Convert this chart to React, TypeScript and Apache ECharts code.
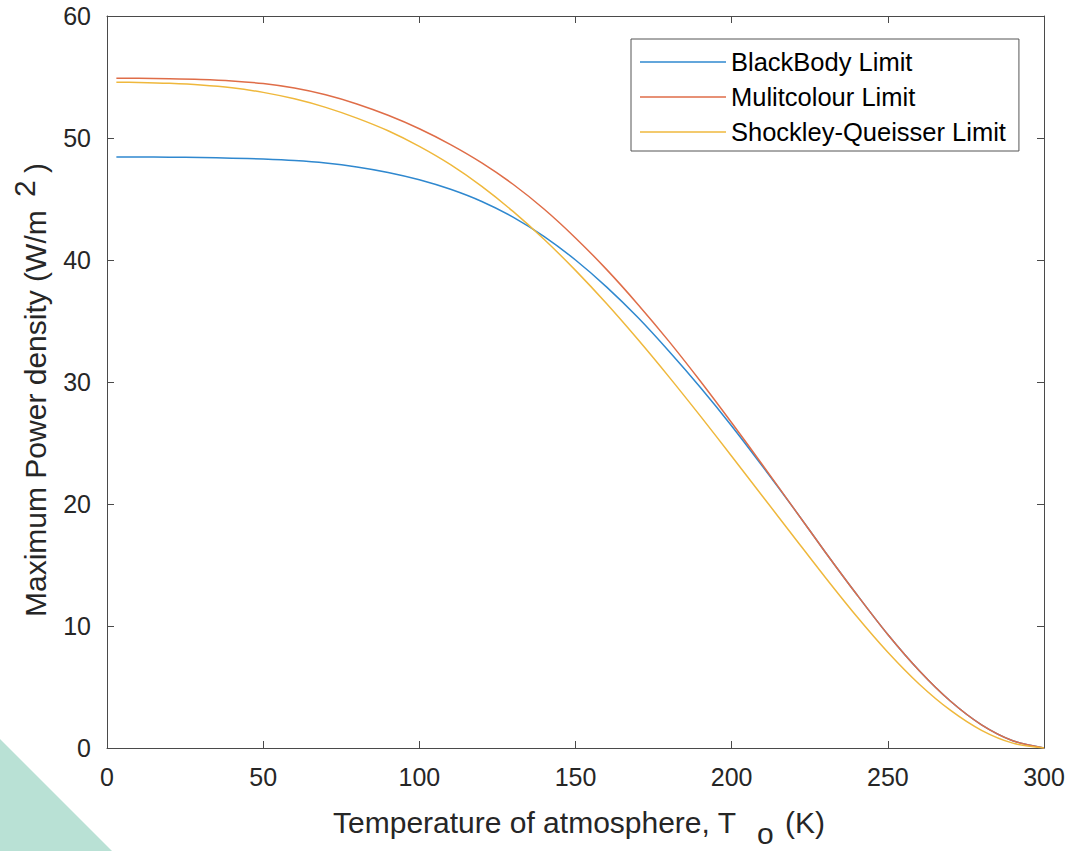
import React, { useEffect, useRef } from 'react';
import * as echarts from 'echarts';

// Temperature of atmosphere (K)
const temperatures = [3, 10, 20, 30, 40, 50, 60, 70, 80, 90, 100, 110, 120, 130, 140, 150, 160, 170, 180, 190, 200, 210, 220, 230, 240, 250, 260, 270, 280, 290, 300];

// Maximum power density (W/m^2)
const blackBodyLimit = [48.45, 48.45, 48.43, 48.4, 48.35, 48.27, 48.15, 47.95, 47.63, 47.18, 46.58, 45.8, 44.8, 43.52, 41.92, 40.0, 37.78, 35.28, 32.5, 29.55, 26.4, 23.05, 19.6, 16.05, 12.6, 9.3, 6.35, 3.85, 1.9, 0.6, 0];
const multicolourLimit = [54.9, 54.89, 54.86, 54.8, 54.68, 54.46, 54.09, 53.54, 52.79, 51.86, 50.76, 49.46, 47.96, 46.21, 44.16, 41.81, 39.21, 36.36, 33.31, 30.06, 26.66, 23.16, 19.6, 16.05, 12.6, 9.3, 6.35, 3.85, 1.9, 0.6, 0];
const shockleyQueisserLimit = [54.57, 54.55, 54.48, 54.35, 54.12, 53.74, 53.21, 52.51, 51.63, 50.59, 49.31, 47.81, 46.03, 43.98, 41.68, 39.15, 36.41, 33.48, 30.4, 27.2, 23.92, 20.6, 17.28, 13.98, 10.8, 7.85, 5.25, 3.1, 1.45, 0.4, 0];

const seriesNames = ['BlackBody Limit', 'Mulitcolour Limit', 'Shockley-Queisser Limit'];
const seriesColors = ['#2f88cf', '#df6d48', '#efb83c'];

const xMin = 0;
const xMax = 300;
const xInterval = 50;
const yMin = 0;
const yMax = 60;
const yInterval = 10;

export default function App() {
  const ref = useRef<HTMLDivElement>(null);

  useEffect(() => {
    const chart = echarts.init(ref.current as HTMLDivElement, null, { renderer: 'svg' });
    const FONT = "'Liberation Sans', Arial, Helvetica, sans-serif";
    const axisColor = '#4a4a4a';
    const labelColor = '#262626';
    const titleSize = 30;
    const pairs = (ys: number[]) => temperatures.map((t, i) => [t, ys[i]]);
    const allSeries = [blackBodyLimit, multicolourLimit, shockleyQueisserLimit];

    const baseX = {
      type: 'value',
      min: xMin,
      max: xMax,
      interval: xInterval,
      axisLine: { show: true, onZero: false, lineStyle: { color: axisColor, width: 1 } },
      axisTick: { show: true, inside: true, length: 7, lineStyle: { color: axisColor, width: 1 } },
      splitLine: { show: false },
    };
    const baseY = {
      type: 'value',
      min: yMin,
      max: yMax,
      interval: yInterval,
      axisLine: { show: true, onZero: false, lineStyle: { color: axisColor, width: 1 } },
      axisTick: { show: true, inside: true, length: 7, lineStyle: { color: axisColor, width: 1 } },
      splitLine: { show: false },
    };

    const titleText = (text: string, x: number, y: number, align: string, rotation = 0) => ({
      type: 'text',
      x,
      y,
      rotation,
      style: {
        text,
        align,
        verticalAlign: 'middle',
        fill: labelColor,
        fontFamily: FONT,
        fontSize: titleSize,
      },
    });

    chart.setOption({
      animation: false,
      backgroundColor: '#ffffff',
      grid: { left: 107, right: 28, top: 16, bottom: 103, containLabel: false },
      xAxis: [
        {
          ...baseX,
          position: 'bottom',
          axisLabel: { fontSize: 25, color: labelColor, fontFamily: FONT, margin: 16 },
        },
        {
          ...baseX,
          position: 'top',
          axisLabel: { show: false },
        },
      ],
      yAxis: [
        {
          ...baseY,
          position: 'left',
          axisLabel: { fontSize: 25, color: labelColor, fontFamily: FONT, margin: 16 },
        },
        {
          ...baseY,
          position: 'right',
          axisLabel: { show: false },
        },
      ],
      legend: {
        orient: 'vertical',
        left: 631,
        top: 39,
        backgroundColor: '#ffffff',
        borderColor: '#555555',
        borderWidth: 1,
        padding: [10, 13, 6, 9],
        icon: 'rect',
        itemWidth: 86,
        itemHeight: 1.5,
        itemGap: 9,
        textStyle: { fontSize: 25.5, fontFamily: FONT, color: '#000000', lineHeight: 25 },
        data: seriesNames,
      },
      series: allSeries.map((ys, i) => ({
        name: seriesNames[i],
        type: 'line',
        xAxisIndex: 0,
        yAxisIndex: 0,
        data: pairs(ys),
        symbol: 'none',
        smooth: 0.3,
        lineStyle: { color: seriesColors[i], width: 1.5 },
        itemStyle: { color: seriesColors[i] },
        z: 2 + i,
      })),
      graphic: [
        {
          type: 'polygon',
          shape: { points: [[0, 739], [0, 851], [112, 851]] },
          style: { fill: '#b9e1d5' },
          z: 0,
        },
        titleText('Temperature of atmosphere, T', 736, 822, 'right'),
        titleText('o', 757, 833, 'left'),
        titleText('(K)', 785, 822, 'left'),
        titleText('Maximum Power density (W/m', 35, 617, 'left', Math.PI / 2),
        titleText('2', 24, 197, 'left', Math.PI / 2),
        titleText(')', 35, 173, 'left', Math.PI / 2),
      ],
    });

    return () => chart.dispose();
  }, []);

  return (
    <div
      ref={ref}
      style={{ position: 'fixed', left: 0, top: 0, width: 1072, height: 851, background: '#ffffff' }}
    />
  );
}
